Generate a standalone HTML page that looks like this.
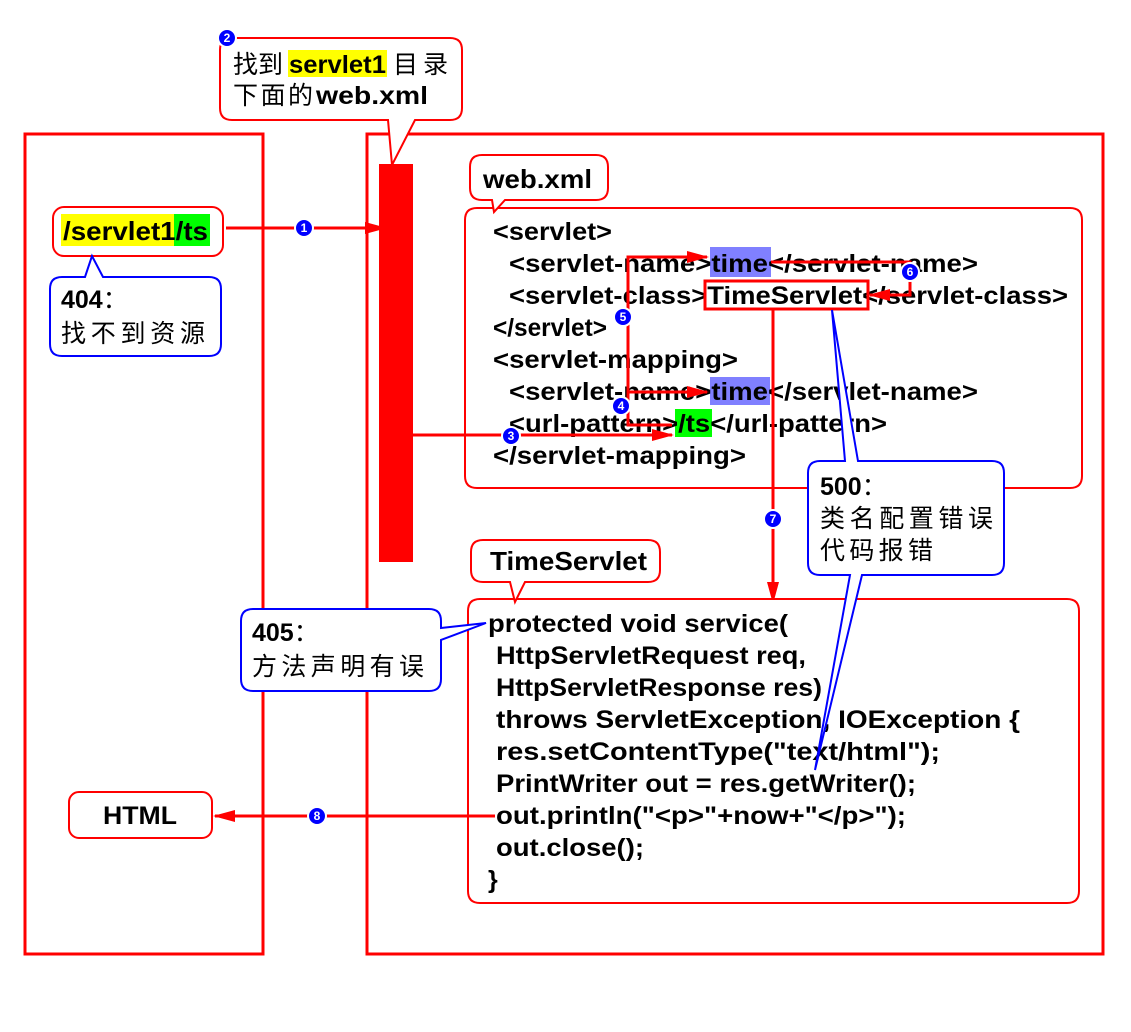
<!DOCTYPE html>
<html><head><meta charset="utf-8"><style>
body{margin:0;background:#fff}
svg text{font-family:"Liberation Sans","Noto Sans CJK SC",sans-serif;font-weight:bold;fill:#000}
.cj{font-weight:normal}
</style></head><body>
<svg width="1131" height="1027" viewBox="0 0 1131 1027" xmlns="http://www.w3.org/2000/svg">
<defs>
<marker id="ar2" markerWidth="22" markerHeight="12" refX="20" refY="6" orient="auto" markerUnits="userSpaceOnUse"><path d="M0,0 L22,6 L0,12 z" fill="#f00"/></marker>
</defs>
<rect x="25" y="134" width="238" height="820" fill="none" stroke="#f00" stroke-width="3"/>
<rect x="367" y="134" width="736" height="820" fill="none" stroke="#f00" stroke-width="3"/>
<rect x="379" y="164" width="34" height="398" fill="#f00"/>
<!-- callout 2 -->
<path d="M232,38 H450 Q462,38 462,50 V108 Q462,120 450,120 H415 L392,165 L388,120 H232 Q220,120 220,108 V50 Q220,38 232,38 Z" fill="#fff" stroke="#f00" stroke-width="2"/>
<rect x="288" y="50" width="99" height="27" fill="#ff0"/>
<text x="233" y="73" font-size="25" class="cj">找到</text>
<text x="289" y="73" font-size="25" textLength="97" lengthAdjust="spacingAndGlyphs">servlet1</text>
<text x="393" y="73" font-size="25" class="cj" textLength="55" lengthAdjust="spacing">目录</text>
<text x="233" y="104" font-size="25" class="cj" textLength="80" lengthAdjust="spacing">下面的</text>
<text x="316" y="104" font-size="25" textLength="112" lengthAdjust="spacingAndGlyphs">web.xml</text>
<!-- /servlet1/ts -->
<rect x="53" y="207" width="170" height="49" rx="11" fill="#fff" stroke="#f00" stroke-width="2"/>
<rect x="61" y="214" width="113" height="32" fill="#ff0"/>
<rect x="174" y="214" width="36" height="32" fill="#0f0"/>
<text x="63" y="240" font-size="26" textLength="145" lengthAdjust="spacingAndGlyphs">/servlet1/ts</text>
<!-- 404 -->
<path d="M62,277 H85 L92,256 L103,277 H209 Q221,277 221,289 V344 Q221,356 209,356 H62 Q50,356 50,344 V289 Q50,277 62,277 Z" fill="#fff" stroke="#00f" stroke-width="2"/>
<text x="61" y="308" font-size="25">404<tspan class="cj">：</tspan></text>
<text x="61" y="342" font-size="25" class="cj" textLength="144" lengthAdjust="spacing">找不到资源</text>
<line x1="226" y1="228" x2="385" y2="228" stroke="#f00" stroke-width="3" marker-end="url(#ar2)"/>
<!-- web.xml -->
<path d="M477,208 H1070 Q1082,208 1082,220 V476 Q1082,488 1070,488 H477 Q465,488 465,476 V220 Q465,208 477,208 Z" fill="#fff" stroke="#f00" stroke-width="2"/>
<path d="M482,155 H596 Q608,155 608,167 V188 Q608,200 596,200 H505 L494,212 L492,200 H482 Q470,200 470,188 V167 Q470,155 482,155 Z" fill="#fff" stroke="#f00" stroke-width="2"/>
<text x="483" y="188" font-size="26" textLength="109" lengthAdjust="spacingAndGlyphs">web.xml</text>
<rect x="710" y="247" width="61" height="30" fill="#8080ff"/>
<rect x="710" y="377" width="60" height="28" fill="#8080ff"/>
<rect x="675" y="409" width="37" height="28" fill="#0f0"/>
<g font-size="25">
<text x="493" y="240" textLength="119" lengthAdjust="spacingAndGlyphs">&lt;servlet&gt;</text>
<text x="509" y="272" textLength="469" lengthAdjust="spacingAndGlyphs">&lt;servlet-name&gt;time&lt;/servlet-name&gt;</text>
<text x="509" y="304" textLength="559" lengthAdjust="spacingAndGlyphs">&lt;servlet-class&gt;TimeServlet&lt;/servlet-class&gt;</text>
<text x="493" y="336" textLength="114" lengthAdjust="spacingAndGlyphs">&lt;/servlet&gt;</text>
<text x="493" y="368" textLength="245" lengthAdjust="spacingAndGlyphs">&lt;servlet-mapping&gt;</text>
<text x="509" y="400" textLength="469" lengthAdjust="spacingAndGlyphs">&lt;servlet-name&gt;time&lt;/servlet-name&gt;</text>
<text x="509" y="432" textLength="378" lengthAdjust="spacingAndGlyphs">&lt;url-pattern&gt;/ts&lt;/url-pattern&gt;</text>
<text x="493" y="464" textLength="253" lengthAdjust="spacingAndGlyphs">&lt;/servlet-mapping&gt;</text>
</g>
<rect x="705" y="281" width="163" height="28" fill="none" stroke="#f00" stroke-width="3"/>
<line x1="413" y1="435" x2="672" y2="435" stroke="#f00" stroke-width="3" marker-end="url(#ar2)"/>
<polyline points="672,425 628,425 628,257 707,257" fill="none" stroke="#f00" stroke-width="3" marker-end="url(#ar2)"/>
<polyline points="628,392 707,392" fill="none" stroke="#f00" stroke-width="3" marker-end="url(#ar2)"/>
<polyline points="771,262 910,262 910,295 870,295" fill="none" stroke="#f00" stroke-width="3" marker-end="url(#ar2)"/>
<line x1="773" y1="310" x2="773" y2="602" stroke="#f00" stroke-width="3" marker-end="url(#ar2)"/>
<!-- code box -->
<path d="M480,599 H1067 Q1079,599 1079,611 V891 Q1079,903 1067,903 H480 Q468,903 468,891 V611 Q468,599 480,599 Z" fill="#fff" stroke="#f00" stroke-width="2"/>
<path d="M483,540 H648 Q660,540 660,552 V570 Q660,582 648,582 H525 L515,602 L510,582 H483 Q471,582 471,570 V552 Q471,540 483,540 Z" fill="#fff" stroke="#f00" stroke-width="2"/>
<text x="490" y="570" font-size="26" textLength="157" lengthAdjust="spacingAndGlyphs">TimeServlet</text>
<g font-size="25">
<text x="488" y="632" textLength="300" lengthAdjust="spacingAndGlyphs">protected void service(</text>
<text x="496" y="664" textLength="310" lengthAdjust="spacingAndGlyphs">HttpServletRequest req,</text>
<text x="496" y="696" textLength="326" lengthAdjust="spacingAndGlyphs">HttpServletResponse res)</text>
<text x="496" y="728" textLength="524" lengthAdjust="spacingAndGlyphs">throws ServletException, IOException {</text>
<text x="496" y="760" textLength="444" lengthAdjust="spacingAndGlyphs">res.setContentType("text/html");</text>
<text x="496" y="792" textLength="420" lengthAdjust="spacingAndGlyphs">PrintWriter out = res.getWriter();</text>
<text x="496" y="824" textLength="410" lengthAdjust="spacingAndGlyphs">out.println("&lt;p&gt;"+now+"&lt;/p&gt;");</text>
<text x="496" y="856" textLength="148" lengthAdjust="spacingAndGlyphs">out.close();</text>
<text x="488" y="888">}</text>
</g>
<!-- 500 callout -->
<path d="M820,461 H845 L832,310 L858,461 H992 Q1004,461 1004,473 V563 Q1004,575 992,575 H862 L815,770 L850,575 H820 Q808,575 808,563 V473 Q808,461 820,461 Z" fill="#fff" stroke="#00f" stroke-width="2"/>
<text x="820" y="495" font-size="25">500<tspan class="cj">：</tspan></text>
<text x="820" y="527" font-size="25" class="cj" textLength="173" lengthAdjust="spacing">类名配置错误</text>
<text x="820" y="559" font-size="25" class="cj" textLength="113" lengthAdjust="spacing">代码报错</text>
<!-- 405 -->
<path d="M253,609 H429 Q441,609 441,621 V628 L486,623 L441,640 V679 Q441,691 429,691 H253 Q241,691 241,679 V621 Q241,609 253,609 Z" fill="#fff" stroke="#00f" stroke-width="2"/>
<text x="252" y="641" font-size="25">405<tspan class="cj">：</tspan></text>
<text x="252" y="675" font-size="25" class="cj" textLength="172" lengthAdjust="spacing">方法声明有误</text>
<!-- HTML -->
<rect x="69" y="792" width="143" height="46" rx="10" fill="#fff" stroke="#f00" stroke-width="2"/>
<text x="103" y="824" font-size="25" textLength="74" lengthAdjust="spacingAndGlyphs">HTML</text>
<line x1="495" y1="816" x2="215" y2="816" stroke="#f00" stroke-width="3" marker-end="url(#ar2)"/>
<g font-size="12" text-anchor="middle">
<g><circle cx="227" cy="38" r="9" fill="#00f" stroke="#fff" stroke-width="2"/><text x="227" y="42" style="fill:#fff">2</text></g>
<g><circle cx="304" cy="228" r="9" fill="#00f" stroke="#fff" stroke-width="2"/><text x="304" y="232" style="fill:#fff">1</text></g>
<g><circle cx="511" cy="436" r="9" fill="#00f" stroke="#fff" stroke-width="2"/><text x="511" y="440" style="fill:#fff">3</text></g>
<g><circle cx="621" cy="406" r="9" fill="#00f" stroke="#fff" stroke-width="2"/><text x="621" y="410" style="fill:#fff">4</text></g>
<g><circle cx="623" cy="317" r="9" fill="#00f" stroke="#fff" stroke-width="2"/><text x="623" y="321" style="fill:#fff">5</text></g>
<g><circle cx="910" cy="272" r="9" fill="#00f" stroke="#fff" stroke-width="2"/><text x="910" y="276" style="fill:#fff">6</text></g>
<g><circle cx="773" cy="519" r="9" fill="#00f" stroke="#fff" stroke-width="2"/><text x="773" y="523" style="fill:#fff">7</text></g>
<g><circle cx="317" cy="816" r="9" fill="#00f" stroke="#fff" stroke-width="2"/><text x="317" y="820" style="fill:#fff">8</text></g>
</g>
</svg>
</body></html>
